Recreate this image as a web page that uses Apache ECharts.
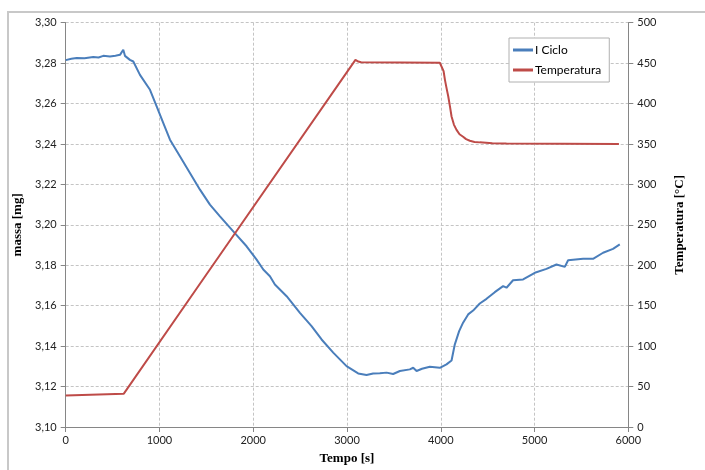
<!DOCTYPE html>
<html>
<head>
<meta charset="utf-8">
<script src="https://cdn.jsdelivr.net/npm/echarts@6/dist/echarts.min.js"></script>
<style>
html, body { margin: 0; padding: 0; background: #fff; }
#Main { width: 705px; height: 470px; }
</style>
</head>
<body>
<div id="Main"></div>
<script>
// massa (I Ciclo)
var massTime = [0, 60, 117, 200, 294, 350, 401, 472, 530, 579, 600, 614, 632, 685, 721, 792, 899, 970, 1040, 1112, 1218, 1325, 1432, 1538, 1645, 1787, 1929, 2036, 2107, 2178, 2231, 2356, 2498, 2622, 2729, 2853, 2995, 3119, 3208, 3279, 3350, 3422, 3492, 3564, 3670, 3706, 3742, 3800, 3883, 3990, 4061, 4115, 4132, 4150, 4196, 4238, 4292, 4345, 4416, 4488, 4576, 4665, 4701, 4771, 4878, 5003, 5127, 5234, 5323, 5358, 5518, 5624, 5731, 5837, 5909];
var massValue = [3.2815, 3.2822, 3.2825, 3.2824, 3.2830, 3.2828, 3.2836, 3.2833, 3.2837, 3.2841, 3.2838, 3.2866, 3.2836, 3.2816, 3.2808, 3.2742, 3.2668, 3.2586, 3.2504, 3.2421, 3.2339, 3.2257, 3.2174, 3.2100, 3.2042, 3.1968, 3.1894, 3.1828, 3.1779, 3.1746, 3.1705, 3.1647, 3.1565, 3.1499, 3.1433, 3.1368, 3.1301, 3.1265, 3.1257, 3.1265, 3.1266, 3.1269, 3.1262, 3.1277, 3.1285, 3.1293, 3.1277, 3.1288, 3.1298, 3.1293, 3.1310, 3.1329, 3.1334, 3.1409, 3.1474, 3.1516, 3.1557, 3.1576, 3.1611, 3.1634, 3.1667, 3.1697, 3.1689, 3.1726, 3.1730, 3.1763, 3.1782, 3.1804, 3.1792, 3.1825, 3.1832, 3.1832, 3.1862, 3.1881, 3.1903];
// temperatura
var tempTime = [0, 620, 1467, 3090, 3120, 3150, 3990, 4010, 4030, 4045, 4060, 4080, 4100, 4115, 4140, 4168, 4200, 4238, 4270, 4310, 4360, 4416, 4550, 4700, 5900];
var tempValue = [39, 41.2, 183, 454, 452, 451, 450.5, 449, 440, 429, 420, 408.7, 395, 384, 374, 367.5, 362, 359, 356, 354, 352.5, 352, 351, 350.5, 350];

function pairs(xs, ys) {
	var out = [];
	for (var i = 0; i < xs.length; i++) {
		out.push([xs[i], ys[i]]);
	}
	return out;
}

var labelFont = { fontFamily: 'Lato', fontSize: 11, color: '#222' };
var nameFont = { fontFamily: 'Liberation Serif', fontSize: 13, fontWeight: 'bold', color: '#000' };
var axisGrey = '#868686';

var myChart = echarts.init(document.getElementById('Main'));
myChart.setOption({
	animation: false,
	backgroundColor: '#fff',
	graphic: [{
		type: 'rect',
		shape: { x: 8, y: 12, width: 710, height: 470 },
		style: { fill: 'none', stroke: '#c8c8c8', lineWidth: 2 },
		silent: true
	}],
	grid: { left: 65.7, right: 76.7, top: 22.7, bottom: 42.3, containLabel: false },
	legend: {
		orient: 'vertical',
		left: 509,
		top: 38,
		width: 100,
		padding: [6, 8, 6, 4],
		itemGap: 8,
		itemWidth: 20,
		itemHeight: 3,
		icon: 'rect',
		borderColor: '#b0b0b0',
		borderWidth: 1,
		backgroundColor: '#fff',
		textStyle: { fontFamily: 'Lato', fontSize: 12, color: '#000', padding: [0, 12, 0, -3] },
		data: ['I Ciclo', 'Temperatura']
	},
	xAxis: {
		type: 'value',
		min: 0,
		max: 6000,
		interval: 1000,
		name: 'Tempo [s]',
		nameLocation: 'middle',
		nameGap: 25,
		nameTextStyle: nameFont,
		axisLine: { lineStyle: { color: axisGrey } },
		axisTick: { show: true, length: 5, lineStyle: { color: axisGrey } },
		axisLabel: Object.assign({
			formatter: function (v) { return String(v); }
		}, labelFont),
		splitLine: { show: true, lineStyle: { color: '#c4c4c4', type: [3, 2] } }
	},
	yAxis: [{
		type: 'value',
		min: 3.10,
		max: 3.30,
		interval: 0.02,
		name: 'massa [mg]',
		nameLocation: 'middle',
		nameGap: 30,
		nameRotate: 90,
		nameTextStyle: nameFont,
		axisLine: { show: true, lineStyle: { color: axisGrey } },
		axisTick: { show: true, length: 5, lineStyle: { color: axisGrey } },
		axisLabel: Object.assign({
			formatter: function (v) { return v.toFixed(2).replace('.', ','); },
			margin: 9
		}, labelFont),
		splitLine: { show: true, lineStyle: { color: '#c4c4c4', type: [3, 2] } }
	}, {
		type: 'value',
		min: 0,
		max: 500,
		interval: 50,
		position: 'right',
		name: 'Temperatura [°C]',
		nameLocation: 'middle',
		nameGap: 45,
		nameRotate: 90,
		nameTextStyle: nameFont,
		axisLine: { show: true, lineStyle: { color: axisGrey } },
		axisTick: { show: true, length: 5, lineStyle: { color: axisGrey } },
		axisLabel: Object.assign({ margin: 9 }, labelFont),
		splitLine: { show: false }
	}],
	series: [{
		name: 'I Ciclo',
		type: 'line',
		yAxisIndex: 0,
		symbol: 'none',
		color: '#4a7ebb',
		lineStyle: { width: 2, color: '#4a7ebb' },
		data: pairs(massTime, massValue)
	}, {
		name: 'Temperatura',
		type: 'line',
		yAxisIndex: 1,
		symbol: 'none',
		color: '#be4b48',
		lineStyle: { width: 2, color: '#be4b48' },
		data: pairs(tempTime, tempValue)
	}]
});
</script>
</body>
</html>
